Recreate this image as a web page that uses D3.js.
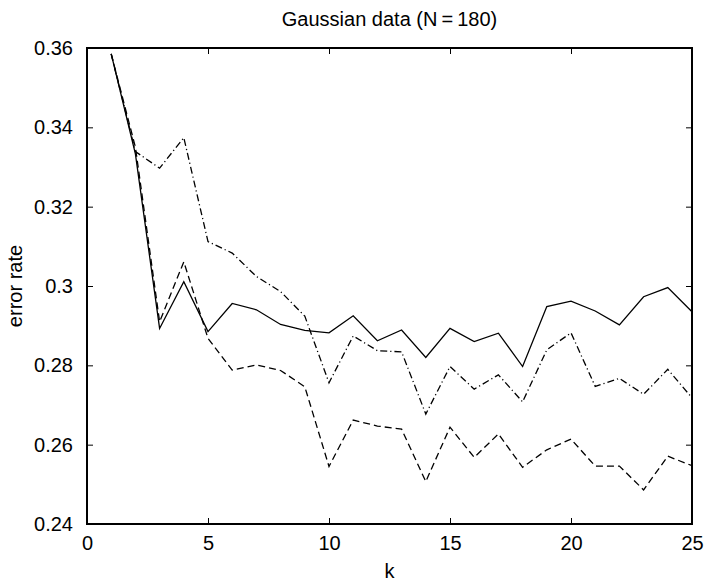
<!DOCTYPE html>
<html>
<head>
<meta charset="utf-8">
<script src="https://cdn.jsdelivr.net/npm/d3@7"></script>
<style>
  html, body { margin: 0; padding: 0; background: #fff; }
  svg { display: block; }
  text { font-family: "Liberation Sans", Arial, Helvetica, sans-serif; fill: #000; }
</style>
</head>
<body>
<svg id="chart" width="704" height="582"></svg>
<script>
// Neighbourhood size k and the three error-rate curves
const kValues = d3.range(1, 26);
const solidRates = [0.3585, 0.3333, 0.2893, 0.3011, 0.2885, 0.2956, 0.2940, 0.2903, 0.2888,
  0.2882, 0.2925, 0.2862, 0.2889, 0.2820, 0.2893, 0.2860, 0.2881, 0.2797, 0.2948,
  0.2962, 0.2937, 0.2902, 0.2973, 0.2996, 0.2935];
const dashDotRates = [0.3585, 0.3339, 0.3297, 0.3374, 0.3112, 0.3083, 0.3024, 0.2986, 0.2924,
  0.2756, 0.2874, 0.2837, 0.2834, 0.2677, 0.2797, 0.2740, 0.2776, 0.2708, 0.2839,
  0.2882, 0.2747, 0.2767, 0.2727, 0.2790, 0.2718];
const dashedRates = [0.3585, 0.3350, 0.2910, 0.3061, 0.2868, 0.2788, 0.2801, 0.2787, 0.2746,
  0.2545, 0.2662, 0.2647, 0.2639, 0.2507, 0.2644, 0.2568, 0.2627, 0.2543, 0.2587,
  0.2614, 0.2546, 0.2546, 0.2486, 0.2571, 0.2547];
const xTicks = [0, 5, 10, 15, 20, 25];
const yTicks = [0.24, 0.26, 0.28, 0.30, 0.32, 0.34, 0.36];
const yTickLabels = ["0.24", "0.26", "0.28", "0.3", "0.32", "0.34", "0.36"];

const svg = d3.select("#chart");
const plot = { left: 87, right: 692, top: 48, bottom: 524 };

const x = d3.scaleLinear().domain([0, 25]).range([plot.left, plot.right]);
const y = d3.scaleLinear().domain([0.24, 0.36]).range([plot.bottom, plot.top]);

// curves
const series = [
  { values: solidRates, dash: null },
  { values: dashDotRates, dash: "7,3,1.2,3" },
  { values: dashedRates, dash: "7,4" }
];
const line = d3.line().x((d, i) => x(kValues[i])).y(d => y(d));
svg.append("g").selectAll("path").data(series).join("path")
  .attr("d", s => line(s.values))
  .attr("fill", "none")
  .attr("stroke", "#000")
  .attr("stroke-width", 1.3)
  .attr("stroke-dasharray", s => s.dash);

// axes box with inward ticks on all four sides
const tickLen = 6;
const axisStyle = g => {
  g.select(".domain").remove();
  g.selectAll(".tick line").attr("stroke", "#000").attr("stroke-width", 1);
  g.selectAll(".tick text").style("font-size", "20px");
};
svg.append("g").attr("transform", `translate(0,${plot.bottom})`)
  .call(d3.axisBottom(x).tickValues(xTicks).tickSizeInner(-tickLen).tickSizeOuter(0).tickPadding(12).tickFormat(d3.format("d")))
  .call(axisStyle);
svg.append("g").attr("transform", `translate(0,${plot.top})`)
  .call(d3.axisTop(x).tickValues(xTicks).tickSizeInner(-tickLen).tickSizeOuter(0).tickFormat(""))
  .call(axisStyle);
svg.append("g").attr("transform", `translate(${plot.left},0)`)
  .call(d3.axisLeft(y).tickValues(yTicks).tickSizeInner(-tickLen).tickSizeOuter(0).tickPadding(14)
    .tickFormat((d, i) => yTickLabels[i]))
  .call(axisStyle);
svg.append("g").attr("transform", `translate(${plot.right},0)`)
  .call(d3.axisRight(y).tickValues(yTicks).tickSizeInner(-tickLen).tickSizeOuter(0).tickFormat(""))
  .call(axisStyle);

svg.append("rect")
  .attr("x", plot.left).attr("y", plot.top)
  .attr("width", plot.right - plot.left).attr("height", plot.bottom - plot.top)
  .attr("fill", "none").attr("stroke", "#000").attr("stroke-width", 2);

// title and axis labels
svg.append("text").attr("x", (plot.left + plot.right) / 2).attr("y", 26)
  .attr("text-anchor", "middle").style("font-size", "20px")
  .text("Gaussian data (N\u2009=\u2009180)");
svg.append("text").attr("x", (plot.left + plot.right) / 2).attr("y", 578)
  .attr("text-anchor", "middle").style("font-size", "20px").text("k");
svg.append("text")
  .attr("transform", `translate(22,${(plot.top + plot.bottom) / 2}) rotate(-90)`)
  .attr("text-anchor", "middle").style("font-size", "20px").text("error rate");
</script>
</body>
</html>
